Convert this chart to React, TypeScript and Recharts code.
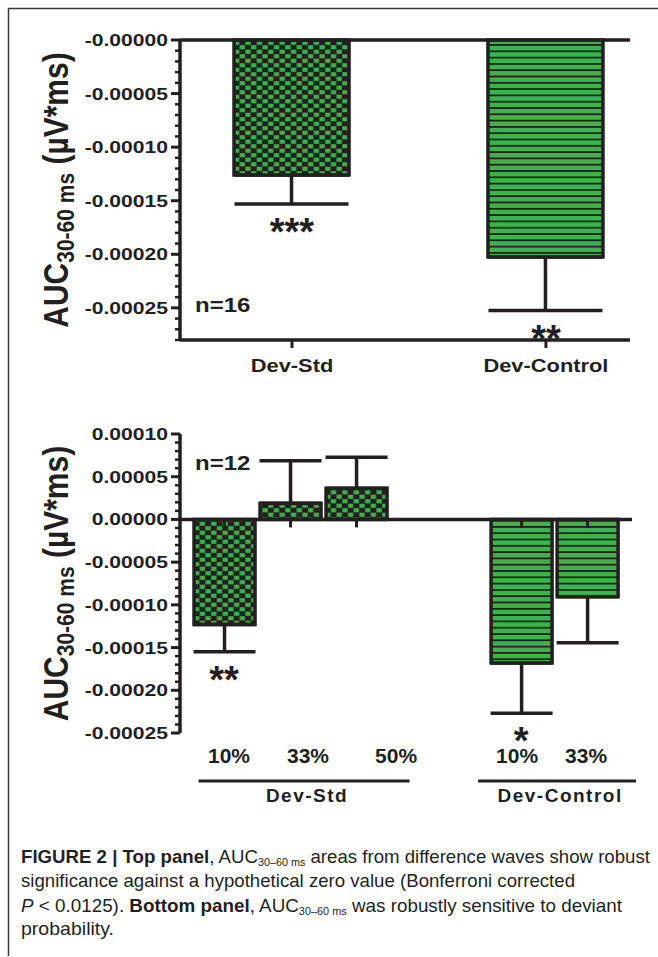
import React from 'react';
import { ComposedChart, Bar, ErrorBar, Scatter, XAxis, YAxis, ReferenceLine } from 'recharts';

// top panel: deviant minus standard / deviant minus control, n=16
const TOP_GROUPS = ['Dev-Std', 'Dev-Control'];
const TOP_MEAN = [-0.000126, -0.0002025];
const TOP_SEM = [0.000027, 0.00005];
const TOP_SIG = ['***', '**'];
const TOP_N = 'n=16';
const TOP_Y_TICKS = [0, -0.00005, -0.0001, -0.00015, -0.0002, -0.00025];

// bottom panel: split by deviant probability, n=12
const BOTTOM_PROB = ['10%', '33%', '50%', '10%', '33%'];
const BOTTOM_GROUP = ['Dev-Std', 'Dev-Std', 'Dev-Std', 'Dev-Control', 'Dev-Control'];
const BOTTOM_MEAN = [-0.000123, 0.0000188, 0.0000364, -0.000168, -0.0000904];
const BOTTOM_SEM = [0.000032, 0.00005, 0.0000364, 0.000059, 0.000054];
const BOTTOM_SIG = ['**', '', '', '*', ''];
const BOTTOM_N = 'n=12';
const BOTTOM_Y_TICKS = [0.0001, 0.00005, 0, -0.00005, -0.0001, -0.00015, -0.0002, -0.00025];

const INK = '#231f20';
const GREEN = '#39b54a';
const FONT = '"Liberation Sans", Arial, Helvetica, sans-serif';
const SX = 1.28; // the original figure is stretched sideways
const GROUP_STEP = 4.5; // 3 bars + gap between the groups

// label tweaks (px) so the bottom labels sit where the figure has them
const PROB_NUDGE = [5, 18, 40, -4, -1];
const GROUP_LINE: Record<string, { width: number; nudge: number }> = {
  'Dev-Std': { width: 211, nudge: 14 },
  'Dev-Control': { width: 158, nudge: 3 },
};

const errOf = (m: number, s: number) => (m < 0 ? [s, 0] : [0, s]);

const topRows = TOP_GROUPS.map((group, i) => ({
  pos: i,
  group,
  label: group,
  mean: TOP_MEAN[i],
  err: errOf(TOP_MEAN[i], TOP_SEM[i]),
  tip: TOP_SIG[i] ? TOP_MEAN[i] + Math.sign(TOP_MEAN[i]) * TOP_SEM[i] : null,
  sig: TOP_SIG[i],
}));

const groupOrder = Array.from(new Set(BOTTOM_GROUP));
const seen: Record<string, number> = {};
const bottomRows = BOTTOM_PROB.map((prob, i) => {
  const group = BOTTOM_GROUP[i];
  const k = seen[group] ?? 0;
  seen[group] = k + 1;
  return {
    pos: groupOrder.indexOf(group) * GROUP_STEP + k,
    group,
    label: prob,
    mean: BOTTOM_MEAN[i],
    err: errOf(BOTTOM_MEAN[i], BOTTOM_SEM[i]),
    tip: BOTTOM_SIG[i] ? BOTTOM_MEAN[i] + Math.sign(BOTTOM_MEAN[i]) * BOTTOM_SEM[i] : null,
    sig: BOTTOM_SIG[i],
  };
});
const groupTicks = groupOrder.map((g) => {
  const ps = bottomRows.filter((r) => r.group === g).map((r) => r.pos);
  return (Math.min(...ps) + Math.max(...ps)) / 2;
});

const withMinor = (majors: number[], lo: number, hi: number) => {
  const step = Math.abs(majors[1] - majors[0]) / 5;
  const out: number[] = [];
  for (let k = Math.round(hi / step); k * step >= lo - 1e-12; k--) out.push(Number((k * step).toFixed(6)));
  return out;
};

const fmtTop = (v: number) => '-' + Math.abs(v).toFixed(5);
const fmtBottom = (v: number) => (Math.abs(v) < 1e-12 ? '0.00000' : v.toFixed(5));

const YTick = (props: any) => {
  const { x, y, payload, majors, fmt } = props;
  const major = majors.some((m: number) => Math.abs(m - payload.value) < 1e-9);
  return (
    <g>
      <line x1={x} x2={x - (major ? 9 : 5)} y1={y} y2={y} stroke={INK} strokeWidth={major ? 3 : 2.5} />
      {major && (
        <text
          transform={`translate(${x - 12},${y + 6}) scale(${SX},1)`}
          textAnchor="end"
          fontFamily={FONT}
          fontWeight="bold"
          fontSize={16.5}
          fill={INK}
        >
          {fmt(payload.value)}
        </text>
      )}
    </g>
  );
};

const YTitle = ({ cy }: { cy: number }) => (
  <text
    transform={`translate(68,${cy}) rotate(-90) scale(1,1.15)`}
    textAnchor="middle"
    fontFamily={FONT}
    fontWeight="bold"
    fontSize={30}
    fill={INK}
  >
    AUC
    <tspan fontSize={21} dy={5}>30-60 ms</tspan>
    <tspan dy={-5}> (µV*ms)</tspan>
  </text>
);

const PatternBar = (props: any) => {
  const { x, y, width, height, payload, ids, zeroTick } = props;
  if (!Number.isFinite(y) || !Number.isFinite(height)) return <g />;
  const top = Math.min(y, y + height);
  const zero = y + height;
  const fill = payload.group === 'Dev-Std' ? `url(#${ids}-chk)` : `url(#${ids}-str)`;
  return (
    <g>
      <rect x={x} y={top} width={width} height={Math.abs(height)} fill={fill} stroke={INK} strokeWidth={3.5} />
      {zeroTick && (
        <line x1={x + width / 2} x2={x + width / 2} y1={zero} y2={zero + 8} stroke={INK} strokeWidth={3} />
      )}
    </g>
  );
};

const StarMark = (props: any) => {
  const { cx, cy, payload } = props;
  if (!payload?.sig || !Number.isFinite(cy)) return <g />;
  return (
    <text x={cx} y={cy + 19 + 22} textAnchor="middle" fontFamily={FONT} fontWeight="bold" fontSize={38} fill={INK}>
      {payload.sig}
    </text>
  );
};

const Patterns = ({ id }: { id: string }) => (
  <defs>
    <pattern id={`${id}-chk`} patternUnits="userSpaceOnUse" width={11.4} height={9}>
      <rect width={11.4} height={9} fill={INK} />
      <rect x={0.3} y={0.2} width={5.2} height={4.1} fill={GREEN} />
      <rect x={6} y={4.7} width={5.2} height={4.1} fill={GREEN} />
    </pattern>
    <pattern id={`${id}-str`} patternUnits="userSpaceOnUse" width={12} height={6.3}>
      <rect width={12} height={6.3} fill={GREEN} />
      <rect width={12} height={1.8} fill={INK} />
    </pattern>
  </defs>
);

const axisStroke = { stroke: INK, strokeWidth: 3.5 };

const TopChart = () => (
  <ComposedChart width={658} height={400} data={topRows} margin={{ top: 40, right: 28, bottom: 20, left: 10 }}>
    <Patterns id="top" />
    <XAxis
      type="number"
      dataKey="pos"
      domain={[-0.441, 1.331]}
      ticks={topRows.map((r) => r.pos)}
      interval={0}
      height={40}
      axisLine={axisStroke}
      tickLine={{ stroke: INK, strokeWidth: 3 }}
      tickSize={8}
      tickMargin={0}
      tick={(p: any) => (
        <text
          transform={`translate(${p.x},${p.y + 24}) scale(1.15,1)`}
          textAnchor="middle"
          fontFamily={FONT}
          fontWeight="bold"
          fontSize={19}
          fill={INK}
        >
          {topRows.find((r) => r.pos === p.payload.value)?.label}
        </text>
      )}
    />
    <YAxis
      type="number"
      domain={[-0.00028, 0]}
      ticks={withMinor(TOP_Y_TICKS, -0.00028, 0)}
      interval={0}
      width={170}
      axisLine={axisStroke}
      tickLine={false}
      tickSize={0}
      tickMargin={0}
      tick={(p: any) => <YTick {...p} majors={TOP_Y_TICKS} fmt={fmtTop} />}
      label={{ content: (lp: any) => <YTitle cy={lp.viewBox.y + lp.viewBox.height / 2} /> }}
    />
    <ReferenceLine y={0} stroke={INK} strokeWidth={3.5} />
    <Bar
      dataKey="mean"
      barSize={115}
      isAnimationActive={false}
      shape={(p: any) => <PatternBar {...p} ids="top" zeroTick={false} />}
    >
      <ErrorBar dataKey="err" width={57} stroke={INK} strokeWidth={3.5} direction="y" />
    </Bar>
    <Scatter dataKey="tip" isAnimationActive={false} shape={StarMark} />
  </ComposedChart>
);

const BottomChart = () => (
  <ComposedChart width={658} height={420} data={bottomRows} margin={{ top: 34, right: 26, bottom: 7, left: 10 }}>
    <Patterns id="bot" />
    <XAxis
      type="number"
      dataKey="pos"
      domain={[-0.667, 6.18]}
      ticks={bottomRows.map((r) => r.pos)}
      interval={0}
      height={40}
      axisLine={false}
      tickLine={false}
      tickSize={0}
      tickMargin={0}
      tick={(p: any) => {
        const i = bottomRows.findIndex((r) => r.pos === p.payload.value);
        return (
          <text
            x={p.x + (PROB_NUDGE[i] ?? 0)}
            y={p.y + 30}
            textAnchor="middle"
            fontFamily={FONT}
            fontWeight="bold"
            fontSize={21}
            fill={INK}
          >
            {bottomRows[i]?.label}
          </text>
        );
      }}
    />
    <XAxis
      xAxisId="grp"
      type="number"
      dataKey="pos"
      domain={[-0.667, 6.18]}
      ticks={groupTicks}
      interval={0}
      height={40}
      axisLine={false}
      tickLine={false}
      tickSize={0}
      tickMargin={0}
      tick={(p: any) => {
        const g = groupOrder[groupTicks.indexOf(p.payload.value)];
        const st = GROUP_LINE[g] ?? { width: 150, nudge: 0 };
        const cx = p.x + st.nudge;
        return (
          <g>
            <line x1={cx - st.width / 2} x2={cx + st.width / 2} y1={p.y + 8} y2={p.y + 8} stroke={INK} strokeWidth={3} />
            <text
              x={cx + 3}
              y={p.y + 29}
              textAnchor="middle"
              fontFamily={FONT}
              fontWeight="bold"
              fontSize={19}
              letterSpacing={1.5}
              fill={INK}
            >
              {g}
            </text>
          </g>
        );
      }}
    />
    <YAxis
      type="number"
      domain={[-0.00025, 0.0001]}
      ticks={withMinor(BOTTOM_Y_TICKS, -0.00025, 0.0001)}
      interval={0}
      width={170}
      axisLine={axisStroke}
      tickLine={false}
      tickSize={0}
      tickMargin={0}
      tick={(p: any) => <YTick {...p} majors={BOTTOM_Y_TICKS} fmt={fmtBottom} />}
      label={{ content: (lp: any) => <YTitle cy={lp.viewBox.y + lp.viewBox.height / 2} /> }}
    />
    <ReferenceLine y={0} stroke={INK} strokeWidth={3.5} />
    <Bar
      dataKey="mean"
      barSize={61}
      isAnimationActive={false}
      shape={(p: any) => <PatternBar {...p} ids="bot" zeroTick />}
    >
      <ErrorBar dataKey="err" width={31} stroke={INK} strokeWidth={3.5} direction="y" />
    </Bar>
    <Scatter dataKey="tip" isAnimationActive={false} shape={StarMark} />
  </ComposedChart>
);

const Caption = () => (
  <g fontFamily={FONT} fontSize={19} fill={INK}>
    <text x={21} y={863} textLength={629} lengthAdjust="spacingAndGlyphs">
      <tspan fontWeight="bold">FIGURE 2 | Top panel</tspan>, AUC
      <tspan fontSize={11} dy={3}>30–60 ms</tspan>
      <tspan dy={-3}> areas from difference waves show robust</tspan>
    </text>
    <text x={21} y={887} textLength={554} lengthAdjust="spacingAndGlyphs">
      significance against a hypothetical zero value (Bonferroni corrected
    </text>
    <text x={21} y={912} textLength={601} lengthAdjust="spacingAndGlyphs">
      <tspan fontStyle="italic">P</tspan> &lt; 0.0125). <tspan fontWeight="bold">Bottom panel</tspan>, AUC
      <tspan fontSize={11} dy={3}>30–60 ms</tspan>
      <tspan dy={-3}> was robustly sensitive to deviant</tspan>
    </text>
    <text x={21} y={935} textLength={93} lengthAdjust="spacingAndGlyphs">
      probability.
    </text>
  </g>
);

const NLabel = ({ x, y, text }: { x: number; y: number; text: string }) => (
  <text transform={`translate(${x},${y}) scale(1.2,1)`} fontFamily={FONT} fontWeight="bold" fontSize={20} fill={INK}>
    {text}
  </text>
);

export default function App() {
  return (
    <div style={{ position: 'absolute', left: 0, top: 0, width: 658, height: 957, background: '#fff', overflow: 'hidden' }}>
      <svg width={658} height={957} style={{ position: 'absolute', left: 0, top: 0 }}>
        <path d="M8.5,956 V8.5 H658" fill="none" stroke="#3a3a3a" strokeWidth={1.5} />
        <NLabel x={195} y={312} text={TOP_N} />
        <NLabel x={195} y={470} text={BOTTOM_N} />
        <Caption />
      </svg>
      <div style={{ position: 'absolute', left: 0, top: 0 }}>
        <TopChart />
      </div>
      <div style={{ position: 'absolute', left: 0, top: 400 }}>
        <BottomChart />
      </div>
    </div>
  );
}
